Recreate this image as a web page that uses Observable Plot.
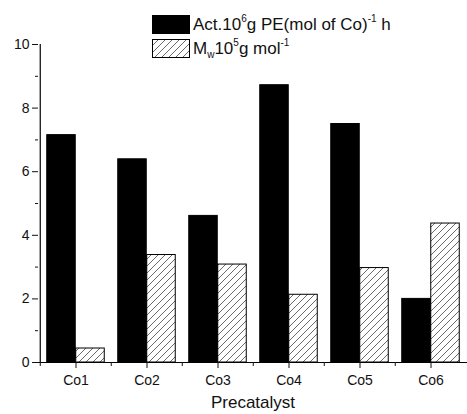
<!DOCTYPE html>
<html><head><meta charset="utf-8">
<script src="https://cdn.jsdelivr.net/npm/d3@7"></script>
<script src="https://cdn.jsdelivr.net/npm/@observablehq/plot@0.6"></script>
<style>
body{margin:0;background:#fff;overflow:hidden;font-family:"Liberation Sans",Arial,sans-serif;}
#wrap{position:relative;width:467px;height:414px;}
#legend{position:absolute;left:0;top:0;width:467px;height:60px;pointer-events:none;font-size:17px;color:#111;}
.row{position:absolute;left:152px;display:flex;align-items:center;}
.sw{width:38px;height:19px;border:1px solid #000;box-sizing:border-box;}
.lt{margin-left:3px;white-space:nowrap;}
sup{font-size:10px;vertical-align:8px;}
sub{font-size:10px;vertical-align:-4px;}
</style></head>
<body><div id="wrap"></div>
<script>
const categories = ["Co1", "Co2", "Co3", "Co4", "Co5", "Co6"];
const activity = [7.15, 6.39, 4.61, 8.72, 7.50, 2.00];
const mw = [0.44, 3.38, 3.08, 2.13, 2.97, 4.37];
const yMajor = [0, 2, 4, 6, 8, 10];
const yMinor = [1, 3, 5, 7, 9];

const bw = 71.5, outer = 6.75, barW = 29;
const half = bw - outer - barW;

const svg = Plot.plot({
  width: 467, height: 414,
  marginLeft: 38, marginRight: 0, marginTop: 44, marginBottom: 52,
  style: {fontFamily: "Liberation Sans, Arial, sans-serif", fontSize: "14px", color: "#111"},
  x: {domain: categories, padding: 0, label: null},
  y: {domain: [0, 10], label: null},
  marks: [
    Plot.barY(categories, {x: d => d, y: (d, i) => activity[i], fill: "#000", stroke: "#000", strokeWidth: 1, insetLeft: outer, insetRight: half}),
    Plot.barY(categories, {x: d => d, y: (d, i) => mw[i], fill: "url(#hatch)", stroke: "#000", strokeWidth: 1, insetLeft: half, insetRight: outer}),
    Plot.ruleY([0], {stroke: "#000", strokeWidth: 1.2, insetLeft: -2}),
    Plot.ruleX(["Co1"], {y1: 0, y2: 10, dx: -bw / 2, stroke: "#000", strokeWidth: 1.2}),
    Plot.axisY({ticks: yMajor, tickSize: 6, tickPadding: 3, tickFormat: d => d, label: null, fontSize: 14}),
    Plot.axisY({ticks: yMinor, tickSize: 3, tickFormat: () => "", label: null}),
    Plot.axisX({tickSize: 6, tickPadding: 7, label: null, fontSize: 14}),
    Plot.axisX({tickSize: 4, tickFormat: () => "", dx: -bw / 2, label: null}),
    Plot.text(["Precatalyst"], {frameAnchor: "bottom", dy: 45, fontSize: 17, fill: "#111"})
  ]
});
svg.insertAdjacentHTML("afterbegin",
  '<defs><pattern id="hatch" patternUnits="userSpaceOnUse" width="7" height="7">' +
  '<path d="M-1,1 l2,-2 M0,7 l7,-7 M6,8 l2,-2" stroke="#444" stroke-width="0.8"/></pattern></defs>');
document.getElementById("wrap").appendChild(svg);

const legend = document.createElement("div");
legend.id = "legend";
legend.innerHTML =
  '<div class="row" style="top:13px"><div class="sw" style="background:#000"></div><span class="lt">Act.10<sup>6</sup>g PE(mol of Co)<sup>-1</sup> h</span></div>' +
  '<div class="row" style="top:37px"><svg width="38" height="19"><rect x="0.5" y="0.5" width="37" height="18" fill="url(#hatch)" stroke="#000"/></svg><span class="lt">M<sub>w</sub>10<sup>5</sup>g mol<sup>-1</sup></span></div>';
document.getElementById("wrap").appendChild(legend);
</script></body></html>
